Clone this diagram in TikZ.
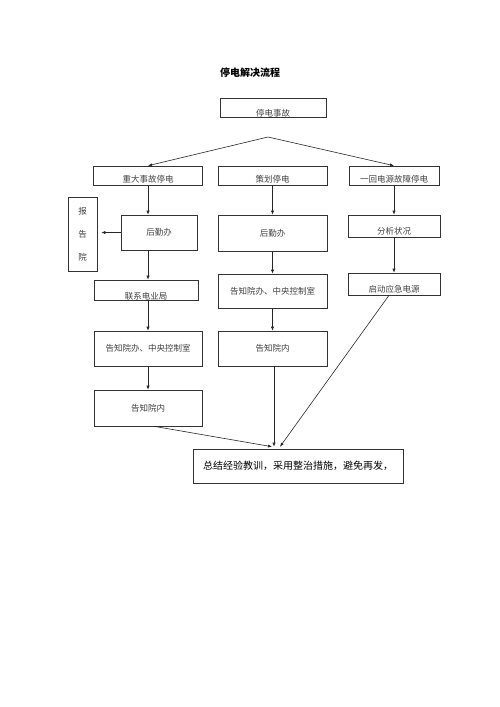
\documentclass[tikz,border=0pt]{standalone}
\usepackage{fontspec}
\newfontfamily\cjk{Noto Sans CJK SC}
\usetikzlibrary{arrows.meta}
\begin{document}
\begin{tikzpicture}[x=1pt,y=-1pt,
  box/.style={draw=black!80, line width=0.6pt, inner sep=0pt, text=black!75,
              font=\cjk\fontsize{8.5}{10}\selectfont},
  low/.style={text height=#1, text depth=0pt},
  arr/.style={draw=black!85, line width=0.6pt, -{Latex[length=4pt,width=3.2pt]}},
  ln/.style={draw=black!85, line width=0.6pt}]
\useasboundingbox (0,0) rectangle (500,707);
\node[font=\cjk\bfseries\fontsize{10}{12}\selectfont] (title) at (250,73) {停电解决流程};
\node[box, minimum width=106pt, minimum height=19pt, low=17pt] (top) at (273,107.5) {停电事故};
\coordinate (apex) at (268,137);
\node[box, minimum width=109pt, minimum height=19pt, low=13pt] (r2a) at (148,175.5) {重大事故停电};
\node[box, minimum width=109pt, minimum height=19pt, low=13pt] (r2b) at (272.5,175.5) {策划停电};
\node[box, minimum width=90pt, minimum height=19pt, low=13pt] (r2c) at (394,175.5) {一回电源故障停电};
\node[box, minimum width=76pt, minimum height=35pt] (hq1) at (159,232.5) {后勤办};
\node[box, minimum width=29pt, minimum height=74pt, align=center, font=\cjk\fontsize{8.5}{23}\selectfont] (bao) at (82.5,234) {报\\告\\院};
\node[box, minimum width=109pt, minimum height=36pt] (hq2) at (272.5,233) {后勤办};
\node[box, minimum width=92pt, minimum height=22pt, low=16pt] (fx) at (394,226) {分析状况};
\node[box, minimum width=104pt, minimum height=20pt, low=18pt] (lx) at (146,290) {联系电业局};
\node[box, minimum width=109pt, minimum height=34pt] (gz2) at (272.5,291) {告知院办、中央控制室};
\node[box, minimum width=92pt, minimum height=22pt, low=16pt] (qd) at (394,284) {启动应急电源};
\node[box, minimum width=108pt, minimum height=35pt] (gz1) at (148,348.5) {告知院办、中央控制室};
\node[box, minimum width=109pt, minimum height=35pt] (gn2) at (272.5,348.5) {告知院内};
\node[box, minimum width=108pt, minimum height=36pt] (gn1) at (148,408) {告知院内};
\node[box, minimum width=210pt, minimum height=34pt, text=black, font=\cjk\fontsize{10}{12}\selectfont] (fin) at (298,466) {总结经验教训，采用整治措施，避免再发，};
% fork
\draw[arr] (apex) -- (r2a.north);
\draw[arr] (apex) -- (r2c.north);
% left column
\draw[arr] (r2a.south) -- (r2a.south |- hq1.north);
\draw[arr] (hq1.west) -- ([xshift=4pt]bao.east |- hq1.west);
\draw[arr] (r2a.south |- hq1.south) -- (r2a.south |- lx.north);
\draw[arr] (r2a.south |- lx.south) -- (gz1.north);
\draw[arr] (gz1.south) -- (gn1.north);
% middle column
\draw[arr] (r2b.south) -- (hq2.north);
\draw[arr] (hq2.south) -- (gz2.north);
\draw[arr] (gz2.south) -- (gn2.north);
% right column
\draw[arr] (r2c.south) -- (fx.north);
\draw[arr] (fx.south) -- (qd.north);
% into final
\coordinate (e1) at ([xshift=-26pt,yshift=2pt]fin.north);
\coordinate (e2) at ([xshift=-24pt,yshift=2pt]fin.north);
\coordinate (e3) at ([xshift=-18pt,yshift=2pt]fin.north);
\draw[arr] ([xshift=6pt]gn1.south) -- (e1);
\draw[arr] ([xshift=1.5pt]gn2.south) -- (e2);
\draw[arr] ([xshift=-5pt]qd.south) -- (e3);
\end{tikzpicture}
\end{document}
